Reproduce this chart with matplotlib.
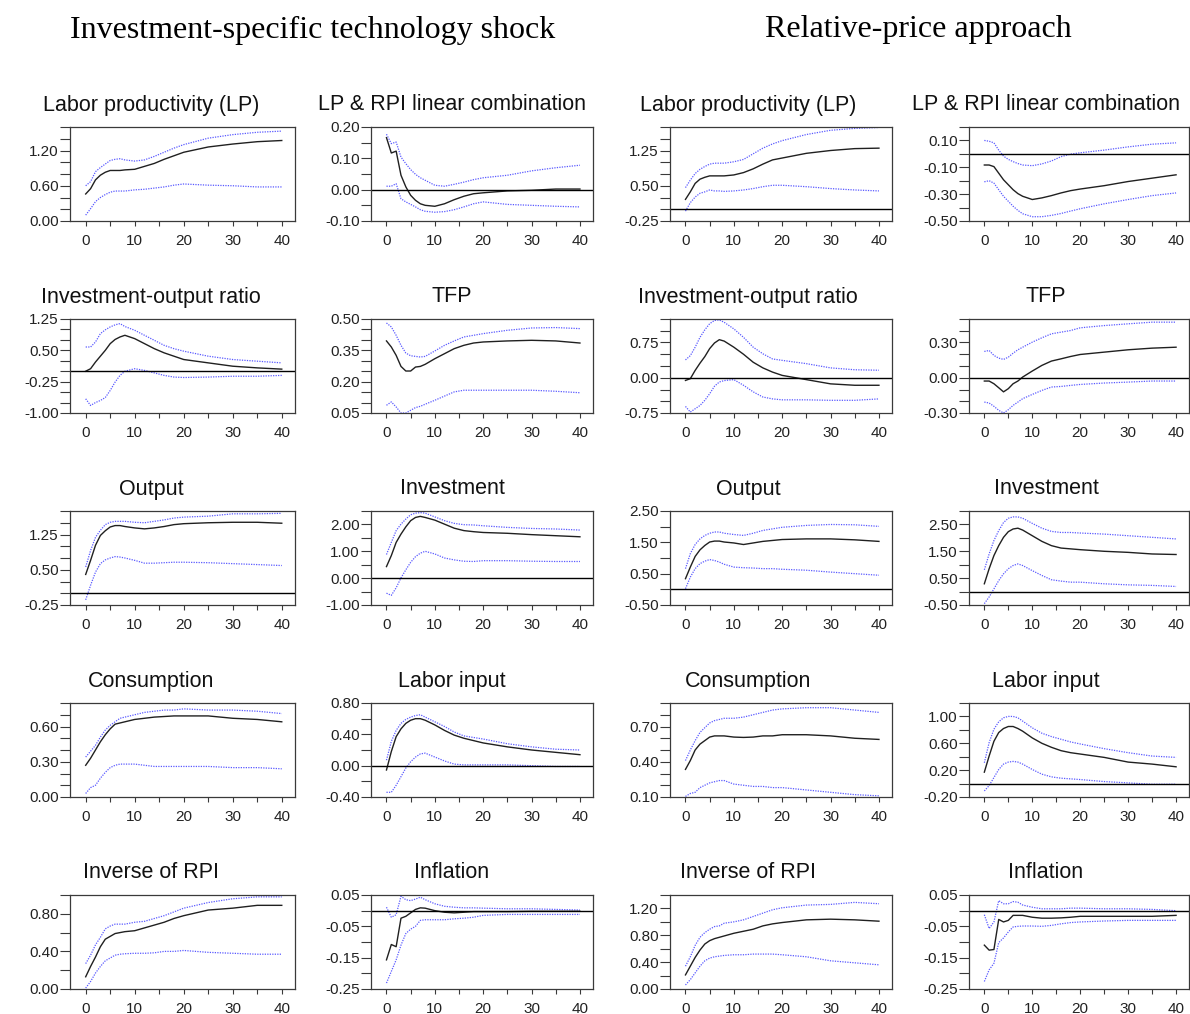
import numpy as np
import matplotlib
matplotlib.use("Agg")
import matplotlib.pyplot as plt
from matplotlib.ticker import FixedLocator, FormatStrFormatter

plt.rcParams['font.family'] = ['Liberation Sans', 'DejaVu Sans']
plt.rcParams['axes.unicode_minus'] = False

# impulse-response horizons (quarters)
horizon = [0, 1, 2, 3, 4, 5, 6, 7, 8, 10, 12, 14, 16, 18, 20, 25, 30, 35, 40]

# ---- investment-specific technology shock: point estimate, lower / upper band
lp_ist = [.46, .55, .70, .78, .83, .86, .86, .86, .87, .88, .93, .98, 1.05, 1.11, 1.17, 1.26, 1.31, 1.35, 1.37]
lp_ist_lo = [.10, .21, .33, .40, .45, .49, .51, .51, .51, .53, .54, .56, .58, .61, .63, .61, .60, .58, .58]
lp_ist_hi = [.60, .67, .84, .91, .97, 1.03, 1.05, 1.06, 1.04, 1.02, 1.04, 1.10, 1.17, 1.24, 1.30, 1.41, 1.47, 1.51, 1.53]

lprpi_ist = [.166, .117, .123, .046, .009, -.018, -.034, -.045, -.050, -.053, -.045, -.032, -.021, -.013, -.010, -.004, -.002, .002, .002]
lprpi_ist_lo = [.011, .011, .019, -.029, -.039, -.047, -.055, -.064, -.069, -.072, -.070, -.064, -.055, -.045, -.039, -.047, -.050, -.053, -.055]
lprpi_ist_hi = [.177, .147, .152, .104, .083, .064, .049, .038, .030, .014, .011, .017, .024, .032, .038, .046, .060, .070, .078]

iy_ist = [0.0, .06, .22, .36, .50, .66, .76, .82, .86, .78, .66, .54, .44, .36, .28, .20, .12, .08, .05]
iy_ist_lo = [-.66, -.82, -.75, -.70, -.63, -.46, -.26, -.10, .00, .06, .02, -.04, -.10, -.14, -.15, -.14, -.12, -.12, -.10]
iy_ist_hi = [.58, .58, .70, .90, .99, 1.06, 1.11, 1.14, 1.07, .98, .86, .74, .62, .54, .48, .36, .28, .24, .20]

tfp_ist = [.395, .366, .326, .273, .251, .251, .270, .273, .283, .310, .334, .358, .374, .385, .390, .395, .398, .395, .385]
tfp_ist_lo = [.087, .103, .079, .050, .050, .063, .076, .082, .092, .111, .131, .151, .159, .159, .159, .159, .159, .154, .147]
tfp_ist_hi = [.481, .462, .422, .374, .337, .324, .321, .318, .321, .347, .374, .395, .414, .422, .430, .446, .457, .459, .454]

y_ist = [.40, .70, 1.02, 1.23, 1.33, 1.41, 1.44, 1.44, 1.42, 1.39, 1.37, 1.39, 1.42, 1.46, 1.48, 1.50, 1.51, 1.51, 1.49]
y_ist_lo = [-.14, .17, .45, .63, .71, .75, .78, .77, .75, .70, .64, .64, .65, .66, .66, .65, .63, .61, .59]
y_ist_hi = [.56, .91, 1.19, 1.34, 1.46, 1.51, 1.53, 1.53, 1.53, 1.51, 1.50, 1.53, 1.56, 1.60, 1.62, 1.64, 1.69, 1.69, 1.70]

inv_ist = [.43, .84, 1.33, 1.64, 1.91, 2.14, 2.26, 2.30, 2.26, 2.16, 2.01, 1.86, 1.77, 1.73, 1.70, 1.67, 1.62, 1.58, 1.54]
inv_ist_lo = [-.56, -.64, -.36, .01, .31, .59, .80, .93, 1.00, .90, .75, .68, .63, .62, .65, .65, .63, .62, .62]
inv_ist_hi = [.88, 1.33, 1.77, 2.01, 2.20, 2.36, 2.42, 2.44, 2.42, 2.28, 2.14, 2.04, 1.99, 1.98, 1.95, 1.89, 1.85, 1.83, 1.79]

c_ist = [.27, .33, .40, .47, .53, .58, .62, .63, .64, .66, .67, .68, .685, .69, .69, .69, .67, .66, .64]
c_ist_lo = [.03, .08, .10, .16, .21, .25, .27, .28, .28, .28, .27, .26, .26, .26, .26, .26, .25, .25, .24]
c_ist_hi = [.34, .39, .44, .51, .57, .61, .64, .67, .68, .70, .72, .73, .74, .74, .75, .74, .74, .73, .71]

h_ist = [-.055, .18, .37, .47, .54, .58, .60, .60, .58, .52, .45, .39, .35, .32, .29, .24, .20, .17, .14]
h_ist_lo = [-.34, -.34, -.25, -.14, -.03, .05, .11, .15, .16, .11, .06, .02, .01, .01, .01, .01, .00, -.01, -.01]
h_ist_hi = [.07, .31, .45, .54, .59, .62, .64, .65, .62, .56, .50, .43, .38, .36, .34, .28, .24, .21, .20]

irpi_ist = [.13, .24, .34, .45, .53, .56, .59, .60, .61, .62, .65, .68, .71, .75, .78, .84, .86, .89, .89]
irpi_ist_lo = [.01, .08, .17, .24, .30, .33, .36, .37, .375, .38, .38, .385, .40, .40, .41, .39, .38, .37, .37]
irpi_ist_hi = [.27, .36, .47, .55, .64, .67, .69, .69, .69, .71, .72, .75, .78, .82, .86, .92, .96, .98, .98]

pi_ist = [-.157, -.108, -.115, -.024, -.018, -.007, .004, .009, .008, .000, -.005, -.007, -.005, -.003, -.003, -.003, -.002, -.002, -.002]
pi_ist_lo = [-.231, -.194, -.157, -.110, -.073, -.059, -.050, -.031, -.029, -.029, -.029, -.026, -.024, -.021, -.015, -.012, -.012, -.012, -.012]
pi_ist_hi = [.011, -.021, -.013, .046, .035, .032, .037, .043, .035, .022, .014, .011, .009, .009, .008, .006, .006, .004, .002]

# ---- relative-price approach
lp_rp = [.21, .37, .55, .64, .68, .71, .71, .71, .71, .73, .78, .86, .96, 1.05, 1.09, 1.19, 1.25, 1.29, 1.30]
lp_rp_lo = [-.04, .14, .26, .34, .37, .41, .39, .39, .38, .39, .41, .44, .48, .51, .51, .48, .44, .41, .39]
lp_rp_hi = [.46, .62, .76, .85, .91, .96, .98, .98, .98, 1.01, 1.06, 1.18, 1.30, 1.39, 1.46, 1.59, 1.68, 1.72, 1.74]

lprpi_rp = [-.083, -.083, -.095, -.144, -.193, -.230, -.267, -.296, -.316, -.340, -.328, -.311, -.291, -.274, -.262, -.237, -.206, -.181, -.156]
lprpi_rp_lo = [-.208, -.200, -.218, -.267, -.316, -.353, -.390, -.421, -.446, -.468, -.468, -.458, -.444, -.426, -.409, -.372, -.340, -.311, -.291]
lprpi_rp_hi = [.100, .094, .082, .028, -.017, -.041, -.058, -.072, -.083, -.088, -.075, -.053, -.021, -.002, .008, .028, .052, .072, .082]

iy_rp = [-.057, -.02, .156, .31, .45, .62, .74, .81, .78, .65, .50, .33, .21, .12, .05, -.04, -.13, -.16, -.16]
iy_rp_lo = [-.61, -.73, -.66, -.59, -.48, -.34, -.18, -.09, -.06, -.04, -.16, -.30, -.41, -.45, -.47, -.47, -.48, -.48, -.45]
iy_rp_hi = [.38, .47, .65, .86, 1.02, 1.15, 1.22, 1.23, 1.18, 1.04, .86, .65, .51, .40, .37, .30, .21, .17, .16]

tfp_rp = [-.028, -.028, -.051, -.085, -.120, -.093, -.051, -.028, .006, .057, .105, .142, .161, .181, .198, .218, .238, .252, .260]
tfp_rp_lo = [-.207, -.215, -.243, -.277, -.300, -.272, -.235, -.207, -.178, -.142, -.108, -.079, -.074, -.065, -.057, -.045, -.037, -.028, -.028]
tfp_rp_hi = [.224, .232, .190, .167, .156, .175, .209, .238, .260, .303, .340, .374, .388, .402, .425, .444, .459, .473, .473]

y_rp = [.34, .71, 1.05, 1.26, 1.40, 1.51, 1.54, 1.54, 1.51, 1.48, 1.43, 1.48, 1.53, 1.56, 1.59, 1.61, 1.61, 1.58, 1.53]
y_rp_lo = [.02, .39, .66, .82, .90, .95, .92, .87, .80, .71, .69, .68, .66, .66, .64, .61, .55, .50, .45]
y_rp_hi = [.66, 1.14, 1.43, 1.61, 1.72, 1.79, 1.83, 1.83, 1.79, 1.75, 1.72, 1.79, 1.88, 1.93, 1.98, 2.04, 2.07, 2.06, 2.01]

inv_rp = [.29, .85, 1.34, 1.71, 2.02, 2.23, 2.33, 2.36, 2.29, 2.08, 1.87, 1.71, 1.62, 1.59, 1.56, 1.50, 1.46, 1.40, 1.38]
inv_rp_lo = [-.45, -.20, .10, .41, .66, .85, .97, 1.03, .97, .78, .60, .44, .39, .35, .35, .29, .25, .23, .19]
inv_rp_hi = [.81, 1.40, 1.90, 2.27, 2.57, 2.73, 2.78, 2.78, 2.73, 2.54, 2.36, 2.24, 2.20, 2.20, 2.18, 2.14, 2.08, 2.02, 1.96]

c_rp = [.335, .41, .50, .55, .58, .61, .62, .62, .62, .61, .607, .61, .62, .62, .63, .63, .62, .60, .59]
c_rp_lo = [.105, .13, .14, .18, .20, .22, .23, .24, .24, .21, .20, .19, .19, .18, .18, .16, .14, .12, .11]
c_rp_hi = [.41, .50, .58, .65, .69, .73, .75, .76, .77, .77, .78, .80, .82, .84, .85, .86, .86, .84, .82]

h_rp = [.17, .41, .63, .76, .82, .85, .85, .82, .78, .68, .60, .54, .49, .46, .44, .39, .32, .29, .25]
h_rp_lo = [-.11, -.03, .09, .21, .29, .32, .33, .32, .29, .21, .14, .10, .08, .07, .06, .03, .01, -.01, -.01]
h_rp_hi = [.31, .61, .81, .92, .98, 1.00, 1.00, .98, .93, .83, .75, .70, .66, .62, .59, .52, .46, .41, .39]

irpi_rp = [.21, .34, .47, .58, .67, .72, .75, .77, .79, .83, .86, .89, .94, .97, .99, 1.03, 1.04, 1.03, 1.01]
irpi_rp_lo = [.06, .14, .24, .34, .42, .46, .48, .49, .50, .51, .51, .52, .52, .52, .51, .48, .42, .39, .36]
irpi_rp_hi = [.34, .48, .65, .77, .84, .89, .93, .94, .98, 1.00, 1.03, 1.08, 1.13, 1.18, 1.21, 1.25, 1.26, 1.29, 1.27]

pi_rp = [-.110, -.126, -.124, -.028, -.036, -.031, -.015, -.015, -.015, -.021, -.024, -.024, -.023, -.021, -.018, -.018, -.018, -.018, -.015]
pi_rp_lo = [-.226, -.189, -.168, -.102, -.087, -.068, -.052, -.050, -.049, -.049, -.050, -.047, -.042, -.038, -.036, -.033, -.031, -.031, -.031]
pi_rp_hi = [-.013, -.057, -.036, .032, .022, .022, .029, .027, .018, .011, .006, .006, .006, .008, .008, .006, .006, .004, .000]

# (title, estimate, lower, upper, ylim, label step, tick step) laid out row by row
panels = [
    [("Labor productivity (LP)", lp_ist, lp_ist_lo, lp_ist_hi, (0.0, 1.6), 0.6, 0.2),
     ("LP & RPI linear combination", lprpi_ist, lprpi_ist_lo, lprpi_ist_hi, (-0.1, 0.2), 0.1, 0.05),
     ("Labor productivity (LP)", lp_rp, lp_rp_lo, lp_rp_hi, (-0.25, 1.75), 0.75, 0.25),
     ("LP & RPI linear combination", lprpi_rp, lprpi_rp_lo, lprpi_rp_hi, (-0.5, 0.2), 0.2, 0.1)],
    [("Investment-output ratio", iy_ist, iy_ist_lo, iy_ist_hi, (-1.0, 1.25), 0.75, 0.25),
     ("TFP", tfp_ist, tfp_ist_lo, tfp_ist_hi, (0.05, 0.5), 0.15, 0.05),
     ("Investment-output ratio", iy_rp, iy_rp_lo, iy_rp_hi, (-0.75, 1.25), 0.75, 0.25),
     ("TFP", tfp_rp, tfp_rp_lo, tfp_rp_hi, (-0.3, 0.5), 0.3, 0.1)],
    [("Output", y_ist, y_ist_lo, y_ist_hi, (-0.25, 1.75), 0.75, 0.25),
     ("Investment", inv_ist, inv_ist_lo, inv_ist_hi, (-1.0, 2.5), 1.0, 0.5),
     ("Output", y_rp, y_rp_lo, y_rp_hi, (-0.5, 2.5), 1.0, 0.5),
     ("Investment", inv_rp, inv_rp_lo, inv_rp_hi, (-0.5, 3.0), 1.0, 0.5)],
    [("Consumption", c_ist, c_ist_lo, c_ist_hi, (0.0, 0.8), 0.3, 0.1),
     ("Labor input", h_ist, h_ist_lo, h_ist_hi, (-0.4, 0.8), 0.4, 0.2),
     ("Consumption", c_rp, c_rp_lo, c_rp_hi, (0.1, 0.9), 0.3, 0.1),
     ("Labor input", h_rp, h_rp_lo, h_rp_hi, (-0.2, 1.2), 0.4, 0.2)],
    [("Inverse of RPI", irpi_ist, irpi_ist_lo, irpi_ist_hi, (0.0, 1.0), 0.4, 0.2),
     ("Inflation", pi_ist, pi_ist_lo, pi_ist_hi, (-0.25, 0.05), 0.1, 0.05),
     ("Inverse of RPI", irpi_rp, irpi_rp_lo, irpi_rp_hi, (0.0, 1.4), 0.4, 0.2),
     ("Inflation", pi_rp, pi_rp_lo, pi_rp_hi, (-0.25, 0.05), 0.1, 0.05)],
]

W, H = 1190, 1014
fig = plt.figure(figsize=(W / 100, H / 100), dpi=100)

col_left = [70, 371, 670, 969]
col_right = [295, 593, 892, 1189]
title_x = [151, 452, 748, 1046]
row_top = [127, 319, 511, 703, 895]
box_h = 94

band_color = '#5a5aff'
frame_color = '#3a3a3a'

for r, row in enumerate(panels):
    for c, (title, mid, lo, hi, ylim, step, minor) in enumerate(row):
        ax = fig.add_axes([col_left[c] / W, 1 - (row_top[r] + box_h) / H,
                           (col_right[c] - col_left[c]) / W, box_h / H])
        ax.plot(horizon, hi, color=band_color, lw=0.9, ls=(0, (1, 1)))
        ax.plot(horizon, lo, color=band_color, lw=0.9, ls=(0, (1, 1)))
        ax.plot(horizon, mid, color='#202020', lw=1.0)
        if ylim[0] < 0 < ylim[1]:
            ax.axhline(0, color='black', lw=1.0)

        ax.set_xlim(-3.2, 42.7)
        ax.set_ylim(*ylim)
        ax.xaxis.set_major_locator(FixedLocator([0, 10, 20, 30, 40]))
        ax.xaxis.set_minor_locator(FixedLocator([5, 15, 25, 35]))
        ax.yaxis.set_major_locator(FixedLocator(np.arange(ylim[0], ylim[1] + 1e-6, step)))
        ax.yaxis.set_minor_locator(FixedLocator(np.arange(ylim[0], ylim[1] + 1e-6, minor)))
        ax.yaxis.set_major_formatter(FormatStrFormatter('%.2f'))

        ax.tick_params(axis='y', which='both', direction='out', length=7.2, width=0.8,
                       color=frame_color, labelsize=11, labelcolor='#222222', pad=1)
        ax.tick_params(axis='x', which='both', direction='out', length=3.6, width=0.8,
                       color=frame_color, labelsize=11, labelcolor='#222222', pad=5.5)
        for s in ax.spines.values():
            s.set_color(frame_color)
            s.set_linewidth(0.9)

        fig.text(title_x[c] / W, 1 - (row_top[r] - 22) / H, title,
                 ha='center', va='center', fontsize=15.5, color='#111111')

fig.text(313 / W, 1 - 30 / H, "Investment-specific technology shock",
         ha='center', va='center', fontsize=23, family='Liberation Serif')
fig.text(918 / W, 1 - 30 / H, "Relative-price approach",
         ha='center', va='center', fontsize=23, family='Liberation Serif')

fig.savefig("out.png", dpi=100)
